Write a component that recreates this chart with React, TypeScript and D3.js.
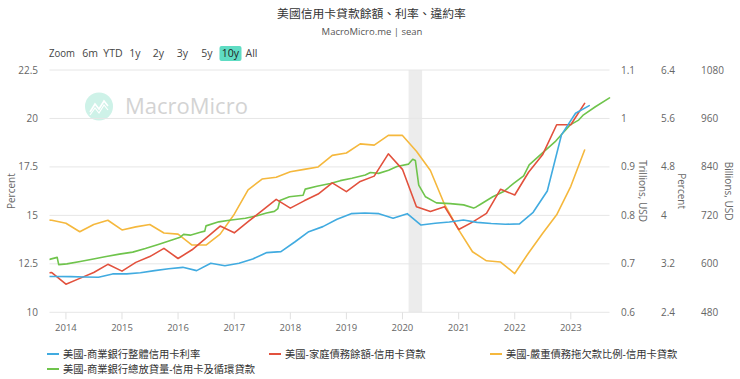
import React from "react";
import * as d3 from "d3";

// ---------- DATA ----------
const title = "美國信用卡貸款餘額、利率、違約率";
const subtitle = "MacroMicro.me | sean";
const rangeButtons = ["6m", "YTD", "1y", "2y", "3y", "5y", "10y", "All"];
const activeButton = "10y";

const seriesNames = [
  "美國-商業銀行整體信用卡利率",
  "美國-家庭債務餘額-信用卡貸款",
  "美國-嚴重債務拖欠款比例-信用卡貸款",
  "美國-商業銀行總放貸量-信用卡及循環貸款",
];

// Blue: commercial bank credit card interest rate (%), left axis
const rateDates = [
  "2013-08-01", "2013-11-01",
  "2014-02-01", "2014-05-01", "2014-08-01", "2014-11-01",
  "2015-02-01", "2015-05-01", "2015-08-01", "2015-11-01",
  "2016-02-01", "2016-05-01", "2016-08-01", "2016-11-01",
  "2017-02-01", "2017-05-01", "2017-08-01", "2017-11-01",
  "2018-02-01", "2018-05-01", "2018-08-01", "2018-11-01",
  "2019-02-01", "2019-05-01", "2019-08-01", "2019-11-01",
  "2020-02-01", "2020-05-01", "2020-08-01", "2020-11-01",
  "2021-02-01", "2021-05-01", "2021-08-01", "2021-11-01",
  "2022-02-01", "2022-05-01", "2022-08-01", "2022-11-01",
  "2023-02-01", "2023-05-01",
];
const rateValues = [
  11.85, 11.85,
  11.84, 11.82, 11.81, 11.98,
  11.98, 12.04, 12.15, 12.25,
  12.32, 12.15, 12.53, 12.4,
  12.53, 12.75, 13.08, 13.13,
  13.64, 14.16, 14.42, 14.8,
  15.09, 15.12, 15.09, 14.85,
  15.09, 14.5, 14.59, 14.66,
  14.76, 14.64, 14.58, 14.54,
  14.56, 15.16, 16.26, 19.15,
  20.27, 20.66,
];

// Quarterly dates for red & yellow
const quarterDates = [
  "2013-07-01", "2013-10-01",
  "2014-01-01", "2014-04-01", "2014-07-01", "2014-10-01",
  "2015-01-01", "2015-04-01", "2015-07-01", "2015-10-01",
  "2016-01-01", "2016-04-01", "2016-07-01", "2016-10-01",
  "2017-01-01", "2017-04-01", "2017-07-01", "2017-10-01",
  "2018-01-01", "2018-04-01", "2018-07-01", "2018-10-01",
  "2019-01-01", "2019-04-01", "2019-07-01", "2019-10-01",
  "2020-01-01", "2020-04-01", "2020-07-01", "2020-10-01",
  "2021-01-01", "2021-04-01", "2021-07-01", "2021-10-01",
  "2022-01-01", "2022-04-01", "2022-07-01", "2022-10-01",
  "2023-01-01", "2023-04-01",
];
// Red: household credit card debt (Trillions USD)
const balanceValues = [
  0.68, 0.682,
  0.658, 0.67, 0.682, 0.699,
  0.685, 0.703, 0.715, 0.732,
  0.711, 0.729, 0.753, 0.778,
  0.764, 0.787, 0.81, 0.833,
  0.815, 0.83, 0.844, 0.867,
  0.849, 0.87, 0.881, 0.927,
  0.895, 0.818, 0.808, 0.818,
  0.771, 0.786, 0.804, 0.854,
  0.842, 0.889, 0.925, 0.987,
  0.987, 1.031,
];
// Yellow: serious delinquency share (%)
const delinquencyValues = [
  3.93, 3.92,
  3.87, 3.73, 3.85, 3.92,
  3.76, 3.81, 3.85, 3.71,
  3.69, 3.51, 3.51, 3.69,
  4.02, 4.42, 4.6, 4.63,
  4.72, 4.76, 4.8, 4.99,
  5.03, 5.18, 5.16, 5.32,
  5.32, 5.06, 4.74, 4.18,
  3.76, 3.4, 3.25, 3.23,
  3.04, 3.38, 3.7, 4.01,
  4.48, 5.08,
];

// Green: commercial bank credit card & revolving loans (Billions USD)
const loanDates = [
  "2013-09-16", "2013-11-05", "2013-11-15", "2014-01-07", "2014-04-04",
  "2014-06-29", "2014-09-20", "2014-12-15", "2015-03-12", "2015-06-02",
  "2015-08-25", "2015-11-22", "2016-01-15", "2016-02-06", "2016-03-20",
  "2016-05-25", "2016-06-23", "2016-07-01", "2016-09-22", "2016-11-30",
  "2017-03-14", "2017-05-30", "2017-07-30", "2017-09-19", "2017-10-12",
  "2017-10-25", "2017-12-26", "2018-03-25", "2018-04-08", "2018-06-23",
  "2018-09-18", "2018-11-22", "2019-02-06", "2019-05-04", "2019-06-06",
  "2019-07-30", "2019-10-03", "2019-11-26", "2020-02-10", "2020-03-08",
  "2020-03-25", "2020-04-16", "2020-05-30", "2020-08-09", "2020-11-07",
  "2021-02-02", "2021-04-08", "2021-04-25", "2021-05-21", "2021-08-11",
  "2021-10-21", "2021-12-25", "2022-02-28", "2022-04-05", "2022-06-29",
  "2022-09-25", "2022-11-06", "2022-12-28", "2023-02-21", "2023-03-25",
  "2023-06-10", "2023-09-10",
];
const loanValues = [
  611, 616, 598, 600, 606,
  612, 618, 624, 629, 638,
  648, 659, 666, 673, 671,
  678, 681, 694, 704, 708,
  713, 719, 726, 730, 737,
  757, 766, 770, 785, 792,
  799, 806, 812, 820, 826,
  824, 832, 841, 847, 859,
  856, 795, 766, 751, 749,
  746, 738, 741, 747, 766,
  779, 799, 818, 845, 874,
  904, 922, 944, 956, 969,
  989, 1011,
];

const recession = ["2020-02-10", "2020-05-08"];
const xDomain = ["2013-09-16", "2023-09-10"];

const leftTicks = [10, 12.5, 15, 17.5, 20, 22.5];
const trillionTicks = [0.6, 0.7, 0.8, 0.9, 1.0, 1.1];
const percentTicks = [2.4, 3.2, 4.0, 4.8, 5.6, 6.4];
const billionTicks = [480, 600, 720, 840, 960, 1080];

const colors = ["#41abe0", "#e2513d", "#f5b83d", "#6fc44c"];

// ---------- LAYOUT ----------
const W = 740;
const H = 379;
const PL = 49.5, PR = 609.5, PT = 70, PB = 312.3;
const FONT = "'Open Sans','Noto Sans CJK TC','Noto Sans',sans-serif";
const buttonCenters = [90, 113, 135, 158.5, 182.5, 207, 230.5, 251.5];

const parse = d3.timeParse("%Y-%m-%d");

export default function App() {
  const x = d3.scaleTime().domain(xDomain.map((d) => parse(d) as Date)).range([PL, PR]);
  const yLeft = d3.scaleLinear().domain([10, 22.5]).range([PB, PT]);
  const yTril = d3.scaleLinear().domain([0.6, 1.1]).range([PB, PT]);
  const yPct = d3.scaleLinear().domain([2.4, 6.4]).range([PB, PT]);
  const yBil = d3.scaleLinear().domain([480, 1080]).range([PB, PT]);

  const mk = (dates: string[], vals: number[], y: d3.ScaleLinear<number, number>) =>
    d3
      .line<number>()
      .x((_, i) => x(parse(dates[i]) as Date))
      .y((v) => y(v))(vals) as string;

  const paths = [
    mk(rateDates, rateValues, yLeft),
    mk(quarterDates, balanceValues, yTril),
    mk(quarterDates, delinquencyValues, yPct),
    mk(loanDates, loanValues, yBil),
  ];
  const order = [2, 3, 1, 0];

  const years = x.ticks(d3.timeYear.every(1));
  const fmtNum = (v: number) => String(+v.toFixed(1));

  const legendPos = [
    [47, 354],
    [269, 354],
    [490, 354],
    [47, 369],
  ];

  const r0 = x(parse(recession[0]) as Date);
  const r1 = x(parse(recession[1]) as Date);

  return (
    <svg
      width={W}
      height={H}
      style={{ position: "absolute", left: 0, top: 0, background: "#fff" }}
      fontFamily={FONT}
    >
      <defs>
        <clipPath id="plot">
          <rect x={PL} y={PT - 2} width={PR - PL + 2} height={PB - PT + 4} />
        </clipPath>
      </defs>
      <rect width={W} height={H} fill="#fff" />

      {/* title */}
      <text x={371.5} y={17.5} textAnchor="middle" fontSize={11.8} fill="#333">
        {title}
      </text>
      <text x={372} y={35} textAnchor="middle" fontSize={9.5} fill="#555">
        {subtitle}
      </text>

      {/* range selector */}
      <text x={49} y={57} fontSize={10.5} fill="#444" textLength={26} lengthAdjust="spacingAndGlyphs">
        Zoom
      </text>
      {rangeButtons.map((b, i) => (
        <g key={b}>
          {b === activeButton && (
            <rect x={buttonCenters[i] - 11} y={46} width={22} height={15} rx={2} fill="#5fdcc3" />
          )}
          <text
            x={buttonCenters[i]}
            y={57}
            textAnchor="middle"
            fontSize={10.5}
            fill={b === activeButton ? "#222" : "#444"}
          >
            {b}
          </text>
        </g>
      ))}

      {/* recession band */}
      <rect x={r0} y={PT} width={r1 - r0} height={PB - PT} fill="#ececec" />

      {/* watermark */}
      <g opacity={0.9}>
        <circle cx={99} cy={106.5} r={14} fill="#c9f1e6" />
        <polyline
          points="90,112 95,104 99,109 104,101 108,106"
          fill="none"
          stroke="#fff"
          strokeWidth={1.6}
        />
        <polyline
          points="90,115 95,108 99,113 104,105 108,110"
          fill="none"
          stroke="#fff"
          strokeWidth={1.2}
        />
        <text x={125} y={114} fontSize={22} fill="#cfcfcf" fontFamily="'Open Sans',sans-serif">
          MacroMicro
        </text>
      </g>

      {/* grid */}
      {leftTicks.map((t) => (
        <line key={t} x1={PL} x2={PR} y1={yLeft(t)} y2={yLeft(t)} stroke="#e6e6e6" strokeWidth={1} />
      ))}
      {/* x ticks */}
      {years.map((d) => (
        <g key={+d}>
          <line x1={x(d)} x2={x(d)} y1={PB} y2={PB + 7} stroke="#e0e0e0" />
          <text x={x(d)} y={331} textAnchor="middle" fontSize={9.5} fill="#666">
            {d.getFullYear()}
          </text>
        </g>
      ))}

      {/* left axis */}
      {leftTicks.map((t) => (
        <text key={t} x={38} y={yLeft(t) + 3.5} textAnchor="end" fontSize={10} fill="#666">
          {String(t)}
        </text>
      ))}
      <text
        transform={`translate(15,${(PT + PB) / 2}) rotate(-90)`}
        textAnchor="middle"
        fontSize={10}
        fill="#666"
      >
        Percent
      </text>

      {/* right axes */}
      {trillionTicks.map((t) => (
        <text key={t} x={621} y={yTril(t) + 3.5} fontSize={10} fill="#666">
          {fmtNum(t)}
        </text>
      ))}
      {percentTicks.map((t) => (
        <text key={t} x={661} y={yPct(t) + 3.5} fontSize={10} fill="#666">
          {fmtNum(t)}
        </text>
      ))}
      {billionTicks.map((t) => (
        <text key={t} x={701} y={yBil(t) + 3.5} fontSize={10} fill="#666">
          {String(t)}
        </text>
      ))}
      <text
        transform={`translate(639,${(PT + PB) / 2}) rotate(90)`}
        textAnchor="middle"
        fontSize={10}
        fill="#666"
      >
        Trillions, USD
      </text>
      <text
        transform={`translate(678,${(PT + PB) / 2}) rotate(90)`}
        textAnchor="middle"
        fontSize={10}
        fill="#666"
      >
        Percent
      </text>
      <text
        transform={`translate(725,${(PT + PB) / 2}) rotate(90)`}
        textAnchor="middle"
        fontSize={10}
        fill="#666"
      >
        Billions, USD
      </text>

      {/* series */}
      <g clipPath="url(#plot)">
        {order.map((i) => (
          <path
            key={i}
            d={paths[i]}
            fill="none"
            stroke={colors[i]}
            strokeWidth={1.6}
            strokeLinejoin="round"
            strokeLinecap="round"
          />
        ))}
      </g>

      {/* legend */}
      {seriesNames.map((n, i) => (
        <g key={n}>
          <line
            x1={legendPos[i][0]}
            x2={legendPos[i][0] + 12}
            y1={legendPos[i][1]}
            y2={legendPos[i][1]}
            stroke={colors[i]}
            strokeWidth={2}
          />
          <text x={legendPos[i][0] + 16} y={legendPos[i][1] + 4} fontSize={10.3} fill="#333">
            {n}
          </text>
        </g>
      ))}
    </svg>
  );
}
